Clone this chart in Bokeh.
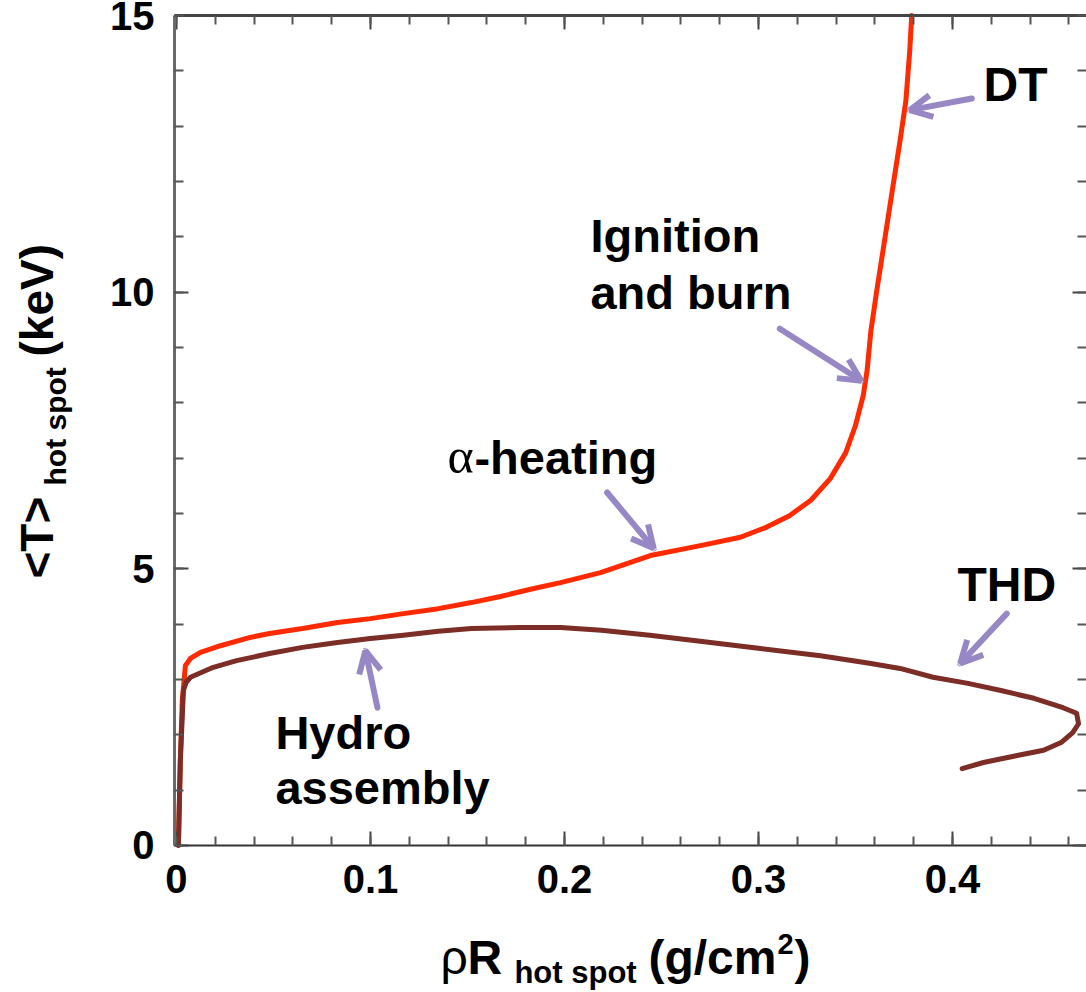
from math import pi
from bokeh.plotting import figure
from bokeh.models import (Range1d, LinearAxis, SingleIntervalTicker, CustomJSTickFormatter,
                          Label, Arrow, OpenHead)
from bokeh.embed import file_html
from bokeh.resources import INLINE

# ---- data (rhoR hot spot in g/cm^2, <T> hot spot in keV) ----
dt_rhor = [0.001, 0.002, 0.003, 0.0046, 0.0072, 0.0124, 0.0227, 0.038, 0.048, 0.065, 0.083,
           0.100, 0.117, 0.135, 0.152, 0.167, 0.1825, 0.198, 0.2186, 0.2443, 0.2701, 0.2907,
           0.304, 0.316, 0.327, 0.337, 0.345, 0.350, 0.354, 0.356, 0.358, 0.361, 0.365,
           0.369, 0.373, 0.376, 0.378, 0.379]
dt_temp = [0.0, 1.54, 2.62, 3.25, 3.38, 3.49, 3.61, 3.76, 3.83, 3.92, 4.03,
           4.10, 4.19, 4.28, 4.39, 4.50, 4.63, 4.75, 4.93, 5.24, 5.42, 5.57,
           5.75, 5.96, 6.24, 6.63, 7.10, 7.59, 8.13, 8.58, 9.31, 10.03, 10.93,
           11.84, 12.74, 13.46, 14.37, 15.0]

thd_rhor = [0.001, 0.002, 0.0036, 0.005, 0.0072, 0.019, 0.031, 0.048, 0.065, 0.083, 0.100,
            0.117, 0.135, 0.152, 0.177, 0.198, 0.219, 0.244, 0.270, 0.301, 0.332, 0.358,
            0.373, 0.390, 0.408, 0.425, 0.442, 0.457, 0.464, 0.465, 0.462, 0.456, 0.447,
            0.434, 0.416, 0.405]
thd_temp = [0.0, 1.54, 2.80, 2.95, 3.04, 3.22, 3.34, 3.47, 3.58, 3.67, 3.74,
            3.80, 3.87, 3.92, 3.94, 3.94, 3.89, 3.80, 3.69, 3.56, 3.43, 3.29,
            3.20, 3.04, 2.93, 2.80, 2.66, 2.49, 2.39, 2.20, 2.04, 1.86, 1.72,
            1.63, 1.50, 1.39]

FONT = "Liberation Sans"
RED = "#ff2a00"
BROWN = "#7b2d26"
PURPLE = "#9787c4"

# axes box of the chart (data units)
XMIN, XMAX = -0.001, 0.469
YMIN, YMAX = 0.0, 15.0

# the frame covers the whole canvas; axes are drawn at fixed locations inside it
p = figure(width=1086, height=992, output_backend="svg", toolbar_location=None,
           x_range=Range1d(-0.0907, 0.4691), y_range=Range1d(-2.657, 15.271),
           min_border=0, x_axis_type=None, y_axis_type=None)
p.grid.visible = False
p.background_fill_color = "white"
p.border_fill_color = "white"
p.outline_line_color = None

# size of one pixel in data units (frame = whole canvas)
PX_X = (0.4691 + 0.0907) / 1086
PX_Y = (15.271 + 2.657) / 992

xt = SingleIntervalTicker(interval=0.1, num_minor_ticks=5)
yt = SingleIntervalTicker(interval=5, num_minor_ticks=5)
xfmt = CustomJSTickFormatter(code="return Math.abs(tick) < 1e-9 ? '0' : tick.toFixed(1);")
blank = CustomJSTickFormatter(code="return '';")


def style_axis(ax, labels, color="#444444", width=2):
    ax.axis_line_color = color
    ax.axis_line_width = width
    ax.major_tick_line_color = "#444444"
    ax.minor_tick_line_color = "#555555"
    ax.major_tick_line_width = 2
    ax.minor_tick_line_width = 2
    ax.major_tick_in = 14
    ax.major_tick_out = 0
    ax.minor_tick_in = 9
    ax.minor_tick_out = 0
    ax.major_label_text_font = FONT
    ax.major_label_text_font_style = "bold"
    ax.major_label_text_font_size = "40px"
    ax.major_label_text_color = "black"
    ax.major_label_standoff = 20 if labels else 0


xb = LinearAxis(ticker=xt, formatter=xfmt, fixed_location=YMIN, bounds=(XMIN, XMAX))
style_axis(xb, True, "#333333", 2)
p.add_layout(xb, "below")
yl = LinearAxis(ticker=yt, fixed_location=XMIN, bounds=(YMIN, YMAX))
style_axis(yl, True, "#6a6a6a", 3)
p.add_layout(yl, "left")
xa = LinearAxis(ticker=xt, formatter=blank, fixed_location=YMAX, bounds=(XMIN, XMAX))
style_axis(xa, False, "#444444", 3)
p.add_layout(xa, "above")
yr = LinearAxis(ticker=yt, formatter=blank, fixed_location=XMAX, bounds=(YMIN, YMAX))
style_axis(yr, False, "#bbbbbb", 1)
p.add_layout(yr, "right")

p.line(dt_rhor, dt_temp, line_color=RED, line_width=5, line_join="round", line_cap="round")
p.line(thd_rhor, thd_temp, line_color=BROWN, line_width=5, line_join="round", line_cap="round")


# ---- annotations ----
def lab(x, y, text, size, bold=True, font=FONT, angle=0.0):
    # compensate the renderer's drop of the alphabetic baseline (~0.38 em)
    drop = 0.38 * size
    if angle == 0.0:
        y = y + drop * PX_Y
    else:
        x = x - drop * PX_X
    p.add_layout(Label(x=x, y=y, text=text, text_font=font, text_font_size=f"{size}px",
                       text_font_style="bold" if bold else "normal", text_color="black",
                       text_align="left", text_baseline="alphabetic", angle=angle))


lab(0.416, 13.43, "DT", 48)
lab(0.4026, 4.39, "THD", 48)
lab(0.2134, 10.70, "Ignition", 47)
lab(0.2134, 9.67, "and burn", 47)
lab(0.1397, 6.69, "α", 50, bold=False, font="Liberation Serif")
lab(0.1536, 6.69, "-heating", 47)
lab(0.051, 1.72, "Hydro", 47)
lab(0.051, 0.72, "assembly", 47)

for xs, ys, xe, ye in [(0.410, 13.50, 0.378, 13.29),
                       (0.311, 9.34, 0.353, 8.40),
                       (0.222, 6.38, 0.246, 5.37),
                       (0.1036, 2.49, 0.0974, 3.52),
                       (0.428, 4.19, 0.404, 3.29)]:
    p.add_layout(Arrow(x_start=xs, y_start=ys, x_end=xe, y_end=ye, line_color=PURPLE,
                       line_width=6, line_cap="round",
                       end=OpenHead(size=22, line_color=PURPLE, line_width=6)))

# x-axis title: ρR hot spot (g/cm²)
lab(0.1361, -2.349, "ρ", 48, bold=False)
lab(0.1500, -2.349, "R", 48)
lab(0.1742, -2.512, "hot spot", 31)
lab(0.2433, -2.349, "(g/cm", 48)
lab(0.3098, -1.988, "2", 29)
lab(0.3186, -2.349, ")", 48)

# y-axis title: <T> hot spot (keV)
lab(-0.0629, 4.825, "<T>", 46, angle=pi / 2)
lab(-0.0567, 6.506, "hot spot", 30, angle=pi / 2)
lab(-0.0629, 8.837, "(keV)", 46, angle=pi / 2)

open("out.html", "w").write(file_html(p, INLINE))
